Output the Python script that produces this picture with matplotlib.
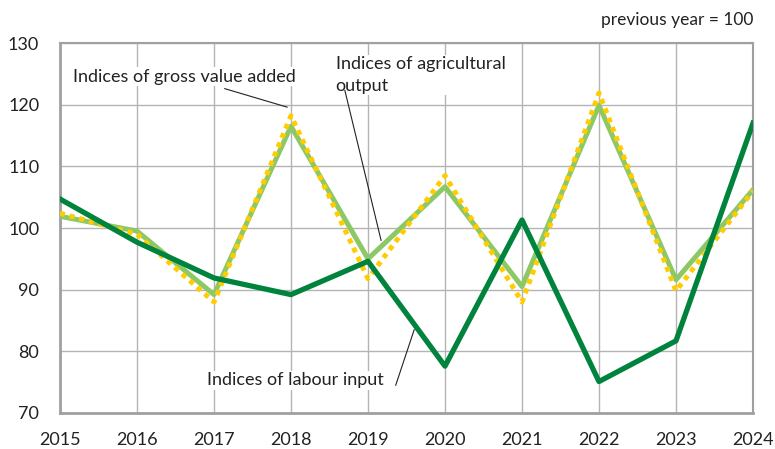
import matplotlib
matplotlib.use("Agg")
import matplotlib.pyplot as plt

plt.rcParams['font.family'] = ['Lato', 'DejaVu Sans']

years = [2015, 2016, 2017, 2018, 2019, 2020, 2021, 2022, 2023, 2024]
labour = [104.7, 97.7, 91.9, 89.2, 94.6, 77.6, 101.3, 75.1, 81.7, 117.0]
agri_output = [101.9, 99.5, 89.2, 116.5, 95.0, 106.7, 90.5, 119.9, 91.6, 106.2]
gross_value = [102.4, 99.0, 88.0, 118.2, 91.8, 108.5, 88.0, 121.9, 89.8, 106.0]

dark_green = '#00843d'
light_green = '#8cc866'
yellow = '#ffcc00'

fig = plt.figure(figsize=(7.75, 4.49), dpi=100)
ax = fig.add_axes([0.0774, 0.0802, 0.8942, 0.824])

ax.plot(years, agri_output, color=light_green, linewidth=3.6, zorder=3)
ax.plot(years, gross_value, color=yellow, linewidth=3.6, linestyle=(0, (1, 1)),
        dash_capstyle='butt', zorder=4)
ax.plot(years, labour, color=dark_green, linewidth=3.8, zorder=5)

ax.set_xlim(2015, 2024)
ax.set_ylim(70, 130)
ax.set_xticks(years)
ax.set_yticks(range(70, 131, 10))
ax.grid(True, color='#b4b4b4', linewidth=1)
ax.set_axisbelow(True)
for s in ax.spines.values():
    s.set_color('#a0a0a0')
    s.set_linewidth(1.5)
ax.spines['left'].set_linewidth(2)
ax.spines['bottom'].set_linewidth(2)
ax.tick_params(length=0, labelsize=13, colors='#222222')
ax.tick_params(axis='y', pad=15)
ax.tick_params(axis='x', pad=14)

fig.text(0.9716, 0.955, 'previous year = 100', ha='right', va='center', fontsize=12.5, color='#222222')

box = dict(facecolor='white', edgecolor='none', pad=1)
ax.text(2015.17, 124.5, 'Indices of gross value added', fontsize=13, color='#222222',
        va='center', ha='left', bbox=box, zorder=6)
ax.plot([2017.14, 2017.95], [122.6, 119.6], color='#222222', linewidth=0.8, zorder=6)

ax.text(2018.58, 124.8, 'Indices of agricultural\noutput', fontsize=13, color='#222222',
        va='center', ha='left', linespacing=1.45, bbox=box, zorder=6)
ax.plot([2018.7, 2019.17], [122.3, 98.0], color='#222222', linewidth=0.8, zorder=6)

ax.text(2016.91, 75.3, 'Indices of labour input', fontsize=13, color='#222222',
        va='center', ha='left', bbox=box, zorder=6)
ax.plot([2019.36, 2019.6], [74.5, 83.5], color='#222222', linewidth=0.8, zorder=6)

fig.savefig('out.png', dpi=100)
